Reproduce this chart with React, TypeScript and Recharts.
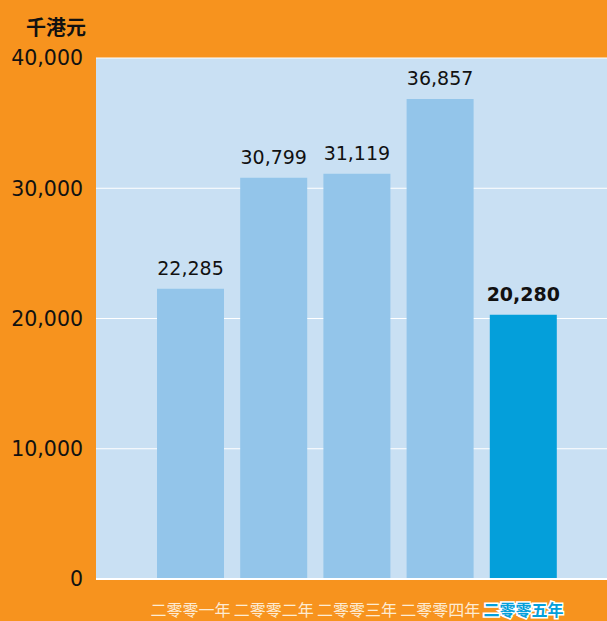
import { BarChart, Bar, XAxis, YAxis, CartesianGrid, Cell, LabelList } from 'recharts';

const years = ['二零零一年', '二零零二年', '二零零三年', '二零零四年', '二零零五年'];
const amounts = [22285, 30799, 31119, 36857, 20280];
const yTicks = [0, 10000, 20000, 30000, 40000];

const data = years.map((year, i) => ({ year, amount: amounts[i] }));

const ORANGE = '#F7931E';
const PLOT_BG = '#C9E0F3';
const BAR = '#93C5EA';
const BAR_HL = '#049FDA';
const latin = '"DejaVu Sans", sans-serif';
const cjk = '"Noto Sans CJK TC", sans-serif';

const fmt = (v: number) => v.toLocaleString('en-US');

// x tick: last year is highlighted in blue with a white outline
const YearTick = (props: any) => {
  const { x, y, payload, index } = props;
  const last = index === years.length - 1;
  return (
    <text
      x={x}
      y={y + 29}
      textAnchor="middle"
      fontFamily={cjk}
      fontSize={16}
      fontWeight={last ? 700 : 400}
      fill={last ? BAR_HL : '#FDEBD3'}
      stroke={last ? '#FFFFFF' : 'none'}
      strokeWidth={last ? 3 : 0}
      paintOrder="stroke"
    >
      {payload.value}
    </text>
  );
};

const ValueLabel = (props: any) => {
  const { x, y, width, value, index } = props;
  const last = index === amounts.length - 1;
  return (
    <text
      x={x + width / 2}
      y={y - 14}
      textAnchor="middle"
      fontFamily={latin}
      fontSize={19}
      fontWeight={last ? 700 : 400}
      fill="#111111"
    >
      {fmt(value)}
    </text>
  );
};

export default function App() {
  return (
    <div style={{ position: 'absolute', left: 0, top: 0, width: 607, height: 621, background: ORANGE }}>
      <div
        style={{
          position: 'absolute',
          left: 0,
          top: 15,
          width: 112,
          textAlign: 'center',
          fontFamily: cjk,
          fontWeight: 700,
          fontSize: 20,
          lineHeight: '24px',
          color: '#111111',
        }}
      >
        千港元
      </div>
      <BarChart
        width={607}
        height={621}
        data={data}
        margin={{ top: 58, right: 0, bottom: 0, left: 0 }}
      >
        <CartesianGrid vertical={false} stroke="#FFFFFF" strokeWidth={1} fill={PLOT_BG} />
        <XAxis
          dataKey="year"
          height={42}
          interval={0}
          padding={{ left: 53, right: 42 }}
          axisLine={{ stroke: '#FFFFFF', strokeWidth: 2 }}
          tickLine={false}
          tick={<YearTick />}
        />
        <YAxis
          width={96}
          domain={[0, 40000]}
          ticks={yTicks}
          axisLine={false}
          tickLine={false}
          tickMargin={7}
          tickFormatter={fmt}
          tick={{ fill: '#111111', fontSize: 20.5, fontFamily: latin }}
        />
        <Bar dataKey="amount" barSize={67} isAnimationActive={false}>
          {data.map((d, i) => (
            <Cell key={d.year} fill={i === data.length - 1 ? BAR_HL : BAR} />
          ))}
          <LabelList dataKey="amount" content={<ValueLabel />} />
        </Bar>
      </BarChart>
    </div>
  );
}
